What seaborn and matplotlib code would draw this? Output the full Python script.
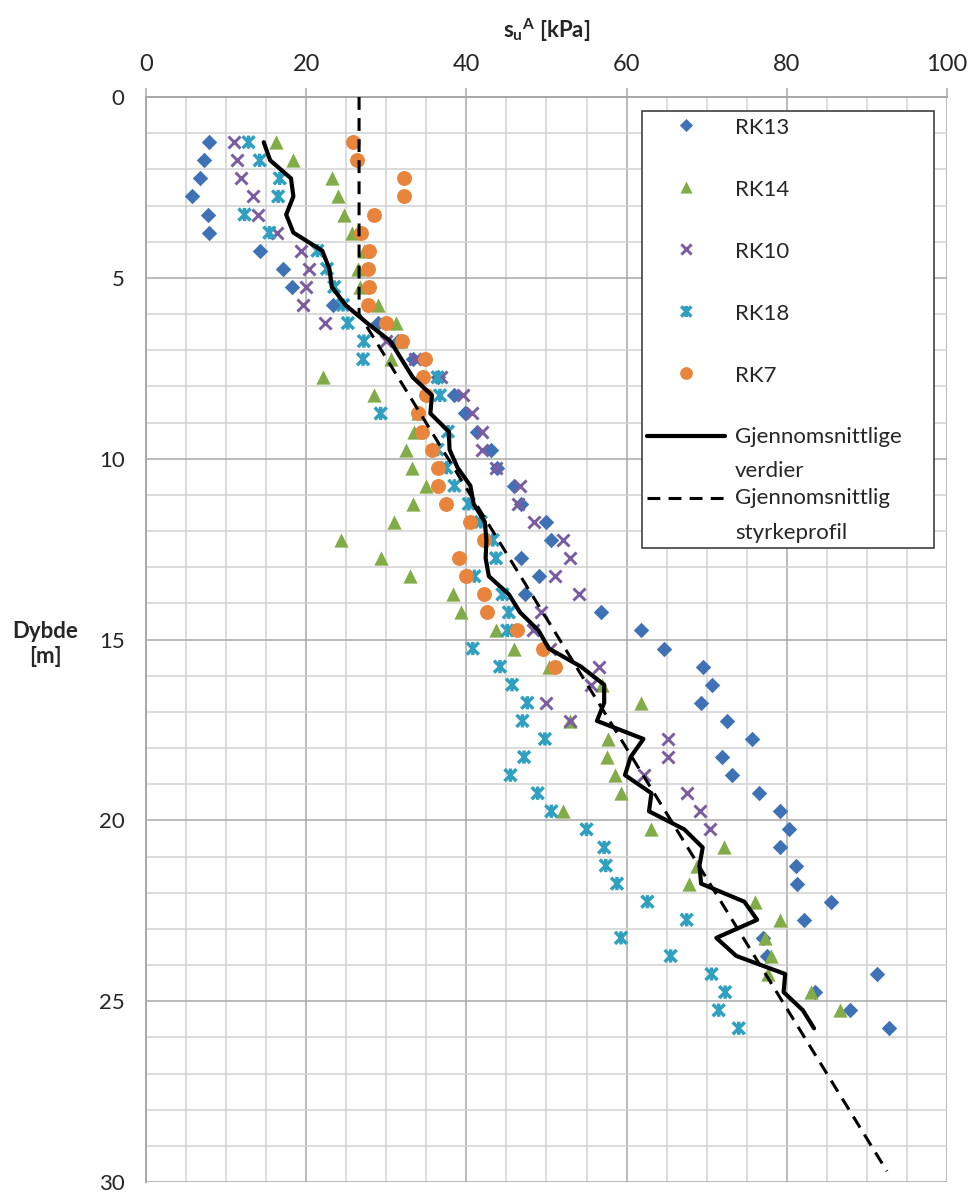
import numpy as np
import pandas as pd
import matplotlib
matplotlib.use("Agg")
import matplotlib.pyplot as plt
import seaborn as sns
from matplotlib.path import Path
from matplotlib.markers import MarkerStyle
from matplotlib.legend_handler import HandlerLine2D, HandlerPathCollection
from matplotlib.ticker import MultipleLocator

nan = np.nan

# ---------------- data ----------------
depth = [1.25, 1.75, 2.25, 2.75, 3.25, 3.75, 4.25, 4.75, 5.25, 5.75,
         6.25, 6.75, 7.25, 7.75, 8.25, 8.75, 9.25, 9.75, 10.25, 10.75,
         11.25, 11.75, 12.25, 12.75, 13.25, 13.75, 14.25, 14.75, 15.25, 15.75,
         16.25, 16.75, 17.25, 17.75, 18.25, 18.75, 19.25, 19.75, 20.25, 20.75,
         21.25, 21.75, 22.25, 22.75, 23.25, 23.75, 24.25, 24.75, 25.25, 25.75]

rk13 = [7.9, 7.3, 6.7, 5.8, 7.8, 7.9, 14.2, 17.1, 18.2, 23.4,
        29.0, 31.4, 33.3, 36.5, 38.5, 39.8, 41.3, 43.1, 43.8, 46.0,
        46.8, 49.9, 50.5, 46.8, 49.1, 47.3, 56.8, 61.8, 64.7, 69.6,
        70.7, 69.3, 72.5, 75.6, 71.9, 73.1, 76.5, 79.1, 80.3, 79.2,
        81.1, 81.3, 85.5, 82.1, 77.0, 77.5, 91.2, 83.5, 87.9, 92.8]

rk14 = [16.2, 18.3, 23.2, 24.0, 24.7, 25.7, 27.2, 26.5, 26.7, 29.0,
        31.2, 31.8, 30.6, 22.1, 28.5, 34.0, 33.5, 32.4, 33.2, 34.9,
        33.3, 31.0, 24.4, 29.3, 32.9, 38.3, 39.3, 43.7, 45.9, 50.3,
        56.9, 61.8, 52.9, 57.7, 57.6, 58.5, 59.3, 52.1, 63.0, 72.2,
        68.8, 67.8, 76.0, 79.2, 77.3, 78.0, 77.6, 83.0, 86.6, nan]

rk10 = [11.0, 11.3, 11.9, 13.4, 14.0, 16.3, 19.4, 20.4, 20.0, 19.6,
        22.4, 30.0, 33.6, 36.8, 39.6, 40.7, 41.9, 42.0, 43.7, 46.7,
        46.4, 48.5, 52.0, 52.9, 51.0, 54.0, 49.3, 48.3, 50.4, 56.5,
        55.6, 49.9, 52.9, 65.2, 65.2, 62.2, 67.5, 69.2, 70.4, nan,
        nan, nan, nan, nan, nan, nan, nan, nan, nan, nan]

rk18 = [12.8, 14.2, 16.7, 16.5, 12.3, 15.4, 21.4, 22.6, 23.5, 24.6,
        25.2, 27.2, 27.1, 36.4, 36.7, 29.3, 37.7, 36.4, 37.5, 38.5,
        40.3, 41.8, 43.3, 43.7, 41.0, 44.5, 45.3, 45.1, 40.8, 44.2,
        45.7, 47.6, 47.0, 49.8, 47.2, 45.5, 48.9, 50.6, 55.0, 57.2,
        57.4, 58.8, 62.6, 67.5, 59.3, 65.5, 70.6, 72.3, 71.5, 74.0]

rk7 = [25.8, 26.3, 32.2, 32.2, 28.5, 26.8, 27.8, 27.7, 27.8, 27.7,
       30.0, 31.9, 34.8, 34.6, 35.0, 33.9, 34.5, 35.7, 36.4, 36.4,
       37.5, 40.4, 42.2, 39.1, 39.9, 42.2, 42.6, 46.3, 49.6, 51.0,
       nan, nan, nan, nan, nan, nan, nan, nan, nan, nan,
       nan, nan, nan, nan, nan, nan, nan, nan, nan, nan]

avg_line = [14.7, 15.5, 18.1, 18.4, 17.5, 18.4, 22.0, 22.9, 23.2, 24.9,
            27.6, 30.5, 31.9, 33.3, 35.7, 35.5, 37.8, 37.9, 38.9, 40.5,
            40.9, 42.3, 42.5, 42.4, 42.8, 45.3, 46.7, 49.0, 50.3, 54.3,
            57.2, 57.2, 56.3, 62.1, 60.5, 59.8, 63.1, 62.8, 67.2, 69.5,
            69.1, 69.3, 74.7, 76.3, 71.2, 73.7, 79.8, 79.6, 82.0, 83.4]

profile_depth = [0.0, 6.0, 29.7]
profile_su = [26.6, 26.6, 92.5]

series_names = ["RK13", "RK14", "RK10", "RK18", "RK7"]
series_values = [rk13, rk14, rk10, rk18, rk7]
line_labels = ["Gjennomsnittlige\nverdier", "Gjennomsnittlig\nstyrkeprofil"]
x_ticks = [0, 20, 40, 60, 80, 100]
y_ticks = [0, 5, 10, 15, 20, 25, 30]

# ---------------- style ----------------
sns.set_style("white")
plt.rcParams["font.family"] = ["Lato", "DejaVu Sans"]
plt.rcParams["mathtext.fontset"] = "custom"
plt.rcParams["mathtext.rm"] = "Lato"
plt.rcParams["mathtext.bf"] = "Lato:bold"
plt.rcParams["mathtext.it"] = "Lato:italic"

star_path = Path([(-1, -1), (1, 1), (-1, 1), (1, -1), (0, -1.1), (0, 1.1)],
                 [Path.MOVETO, Path.LINETO] * 3)
star_marker = MarkerStyle(star_path, fillstyle="none")

styles = {
    "RK13": dict(marker="D", color="#3F72B5", s=62, linewidth=0),
    "RK14": dict(marker="^", color="#82AC48", s=105, linewidth=0),
    "RK10": dict(marker="x", color="#7B5CA0", s=75, linewidth=2.1),
    "RK18": dict(marker=star_marker, color="#2FA0BF", s=90, linewidth=2.5),
    "RK7": dict(marker="o", color="#E8843C", s=115, linewidth=0),
}

fig = plt.figure(figsize=(9.71, 11.94), dpi=100)
ax = fig.add_axes([0.15036, 0.01005, 0.82492, 0.90871])

handles = []
for name, vals in zip(series_names, series_values):
    d = pd.DataFrame({"depth": depth, "su": vals}).dropna()
    st = styles[name]
    sns.scatterplot(data=d, x="su", y="depth", ax=ax, legend=False,
                    marker=st["marker"], color=st["color"], s=st["s"],
                    linewidth=st["linewidth"], zorder=3)
    coll = ax.collections[-1]
    coll.set_label(name)
    handles.append(coll)

avg_df = pd.DataFrame({"depth": depth, "su": avg_line})
sns.lineplot(data=avg_df, x="su", y="depth", orient="y", sort=False,
             estimator=None, color="black", linewidth=3.0, ax=ax,
             legend=False, zorder=4, solid_joinstyle="round")
ln1 = ax.lines[-1]
ln1.set_label(line_labels[0])

prof_df = pd.DataFrame({"depth": profile_depth, "su": profile_su})
sns.lineplot(data=prof_df, x="su", y="depth", orient="y", sort=False,
             estimator=None, color="black", linewidth=2.2, ax=ax,
             legend=False, zorder=4, linestyle=(0, (4.2, 2.7)))
ln2 = ax.lines[-1]
ln2.set_label(line_labels[1])

# ---------------- axes ----------------
ax.set_xlim(0, 100)
ax.set_ylim(30, 0)
ax.xaxis.tick_top()
ax.xaxis.set_label_position("top")
ax.set_xticks(x_ticks)
ax.set_yticks(y_ticks)
ax.xaxis.set_minor_locator(MultipleLocator(5))
ax.yaxis.set_minor_locator(MultipleLocator(1))
ax.set_axisbelow(True)
ax.grid(which="major", color="#A8A8A8", linewidth=1.1)
ax.grid(which="minor", color="#D2D2D2", linewidth=1.1)
ax.tick_params(which="minor", length=0)
ax.tick_params(axis="x", which="major", direction="out", length=6.5, width=1.1,
               color="#A8A8A8", labelsize=17, pad=9, top=True, bottom=False,
               labeltop=True, labelbottom=False, labelcolor="#262626")
ax.tick_params(axis="y", which="major", direction="out", length=6.5, width=1.1,
               color="#A8A8A8", labelsize=16, pad=9, labelcolor="#262626")
for s in ["right", "bottom"]:
    ax.spines[s].set_visible(False)
for s in ["left", "top"]:
    ax.spines[s].set_color("#A8A8A8")
    ax.spines[s].set_linewidth(1.4)

ax.set_xlabel(r"$\mathbf{s}_{\mathbf{u}}{}^{\mathbf{A}}$ [kPa]", fontsize=16,
              fontweight="bold", color="#262626")
ax.xaxis.set_label_coords(0.5, 1.0616)
ax.xaxis.label.set_va("center")
ax.set_ylabel("Dybde\n[m]", rotation=0, fontsize=16, fontweight="bold",
              ha="center", va="center", linespacing=1.25, color="#262626")
ax.yaxis.set_label_coords(-0.126, 0.496)


# ---------------- legend ----------------
class TallMarkerHandler(HandlerPathCollection):
    def legend_artist(self, legend, orig_handle, fontsize, handlebox):
        handlebox.ydescent = 1.74 * fontsize
        handlebox.height = 2.5 * fontsize
        return super().legend_artist(legend, orig_handle, fontsize, handlebox)


class FirstLineHandler(HandlerLine2D):
    def create_artists(self, legend, orig_handle, xdescent, ydescent, width,
                       height, fontsize, trans):
        arts = super().create_artists(legend, orig_handle, xdescent, ydescent,
                                      width, height, fontsize, trans)
        for a in arts:
            a.set_ydata(np.asarray(a.get_ydata()) + 0.8 * fontsize)
        return arts


hmap = {h: TallMarkerHandler() for h in handles}
hmap[ln1] = FirstLineHandler()
hmap[ln2] = FirstLineHandler()
leg = ax.legend(handles=handles + [ln1, ln2],
                labels=series_names + line_labels,
                handler_map=hmap, loc="upper left",
                bbox_to_anchor=(0.619, 0.5, 0.365, 0.487), mode="expand",
                borderaxespad=0, borderpad=0.25, fontsize=16,
                labelspacing=0.29, handlelength=3.5, handletextpad=0.45,
                scatterpoints=1, scatteryoffsets=[0.145], markerscale=0.85,
                fancybox=False, framealpha=1, edgecolor="#404040",
                facecolor="white")
leg.get_frame().set_linewidth(1.2)
for t in leg.get_texts():
    t.set_linespacing(1.92)
    t.set_color("#262626")

fig.savefig("out.png", dpi=100)
